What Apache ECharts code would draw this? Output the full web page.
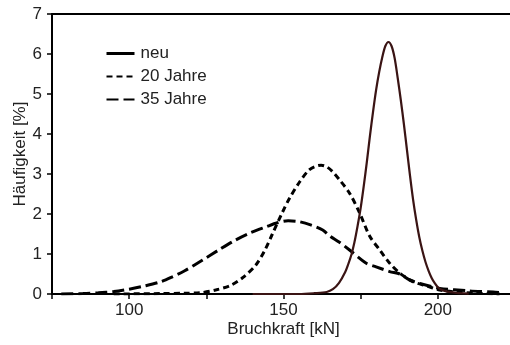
<!DOCTYPE html>
<html>
<head>
<meta charset="utf-8">
<script src="https://cdn.jsdelivr.net/npm/echarts@6/dist/echarts.min.js"></script>
<style>
  html, body { margin: 0; padding: 0; background: #fff; }
  #chart { width: 510px; height: 345px; }
</style>
</head>
<body>
<div id="chart"></div>
<script>
// Bruchkraft distributions (x in kN, y in % frequency)
const neuX = [140, 155, 160, 164, 166, 168, 170, 171, 172, 173, 174, 175, 176, 177, 178, 179, 180, 181, 182, 183, 184, 185, 186, 187, 188, 189, 190, 191, 192, 193, 194, 195, 196, 197, 198, 199, 200, 201, 203, 206, 210];
const neuY = [0, 0, 0.02, 0.05, 0.12, 0.28, 0.55, 0.75, 0.98, 1.3, 1.7, 2.15, 2.7, 3.3, 3.95, 4.55, 5.1, 5.55, 5.92, 6.2, 6.3, 6.2, 5.9, 5.4, 4.85, 4.25, 3.6, 2.95, 2.35, 1.85, 1.42, 1.08, 0.8, 0.58, 0.4, 0.27, 0.17, 0.11, 0.06, 0.03, 0.01];

const j20X = [95, 110, 118, 123, 128, 133, 137, 141, 144, 146.4, 149.7, 152, 155.2, 158, 160, 162.2, 164, 166, 168.2, 171.4, 174.7, 177.9, 181.2, 184.4, 187.7, 191.9, 196.4, 200.6, 206, 212, 220];
const j20Y = [0, 0.01, 0.02, 0.03, 0.1, 0.22, 0.42, 0.72, 1.1, 1.5, 2.05, 2.4, 2.8, 3.08, 3.18, 3.22, 3.18, 3.05, 2.85, 2.52, 2.02, 1.45, 1.1, 0.77, 0.52, 0.31, 0.2, 0.1, 0.05, 0.02, 0];

const j35X = [78, 85, 90, 95, 100, 105, 110, 114, 118, 123.8, 129, 134, 139, 144.4, 148, 151.5, 155, 159, 162.7, 165, 168, 171.4, 176.8, 180, 184.4, 187.7, 190.9, 196.3, 200.6, 210, 217.9, 221];
const j35Y = [0, 0.01, 0.03, 0.06, 0.12, 0.2, 0.3, 0.43, 0.58, 0.85, 1.1, 1.33, 1.52, 1.68, 1.78, 1.83, 1.81, 1.72, 1.6, 1.45, 1.3, 1.1, 0.77, 0.68, 0.56, 0.5, 0.35, 0.22, 0.14, 0.08, 0.05, 0.03];

const seriesNames = ['neu', '20 Jahre', '35 Jahre'];
const xLabelValues = [100, 150, 200];

const pairs = (xs, ys) => xs.map((x, i) => [x, ys[i]]);
const FONT = 'Liberation Sans, Arial, sans-serif';
const TEXT = '#222';
const FS = 17;

const chart = echarts.init(document.getElementById('chart'), null, { renderer: 'canvas' });

chart.setOption({
  animation: false,
  backgroundColor: '#fff',
  grid: { left: 52, top: 14, width: 463, height: 280, containLabel: false, outerBoundsMode: 'none' },
  legend: {
    orient: 'vertical',
    left: 105,
    top: 45,
    padding: 0,
    itemWidth: 28,
    itemHeight: 14,
    itemGap: 6,
    itemStyle: { opacity: 0, borderWidth: 0 },
    textStyle: { fontFamily: FONT, fontSize: FS, color: TEXT, padding: [0, 0, 0, 1] },
    data: [
      { name: seriesNames[0], lineStyle: { color: '#000', width: 3 } },
      { name: seriesNames[1] },
      { name: seriesNames[2] }
    ]
  },
  xAxis: [{
    type: 'value',
    min: 75,
    max: 225,
    interval: 25,
    name: 'Bruchkraft [kN]',
    nameLocation: 'middle',
    nameGap: 27,
    nameMoveOverlap: false,
    nameTextStyle: { fontFamily: FONT, fontSize: FS, color: TEXT },
    axisLine: { show: true, lineStyle: { color: '#000', width: 2 } },
    axisTick: { show: true, inside: false, length: 5, lineStyle: { color: '#000', width: 1.5 } },
    axisLabel: {
      fontFamily: FONT, fontSize: FS, color: TEXT, margin: 8,
      formatter: v => (xLabelValues.indexOf(v) >= 0 ? String(v) : '')
    },
    splitLine: { show: false }
  }, {
    type: 'value',
    position: 'top',
    min: 75,
    max: 225,
    axisLine: { show: true, lineStyle: { color: '#000', width: 2 } },
    axisTick: { show: false },
    axisLabel: { show: false },
    splitLine: { show: false }
  }],
  yAxis: {
    type: 'value',
    min: 0,
    max: 7,
    interval: 1,
    name: 'Häufigkeit [%]',
    nameLocation: 'middle',
    nameGap: 23,
    nameMoveOverlap: false,
    nameTextStyle: { fontFamily: FONT, fontSize: FS, color: TEXT },
    axisLine: { show: true, lineStyle: { color: '#000', width: 2 } },
    axisTick: { show: true, inside: false, length: 5, lineStyle: { color: '#000', width: 1.5 } },
    axisLabel: { fontFamily: FONT, fontSize: FS, color: TEXT, margin: 10 },
    splitLine: { show: false }
  },
  series: [{
    name: 'neu',
    type: 'line',
    symbol: 'none',
    smooth: 0.3,
    data: pairs(neuX, neuY),
    lineStyle: { color: '#3a1414', width: 2.2, type: 'solid' },
    itemStyle: { color: '#111' },
    z: 3
  }, {
    name: '20 Jahre',
    type: 'line',
    symbol: 'none',
    smooth: 0.3,
    data: pairs(j20X, j20Y),
    lineStyle: { color: '#000', width: 3, type: [6, 4], cap: 'butt' },
    itemStyle: { color: '#000' },
    z: 2
  }, {
    name: '35 Jahre',
    type: 'line',
    symbol: 'none',
    smooth: 0.3,
    data: pairs(j35X, j35Y),
    lineStyle: { color: '#000', width: 3, type: [12, 5], cap: 'butt' },
    itemStyle: { color: '#000' },
    z: 2
  }]
});
</script>
</body>
</html>
